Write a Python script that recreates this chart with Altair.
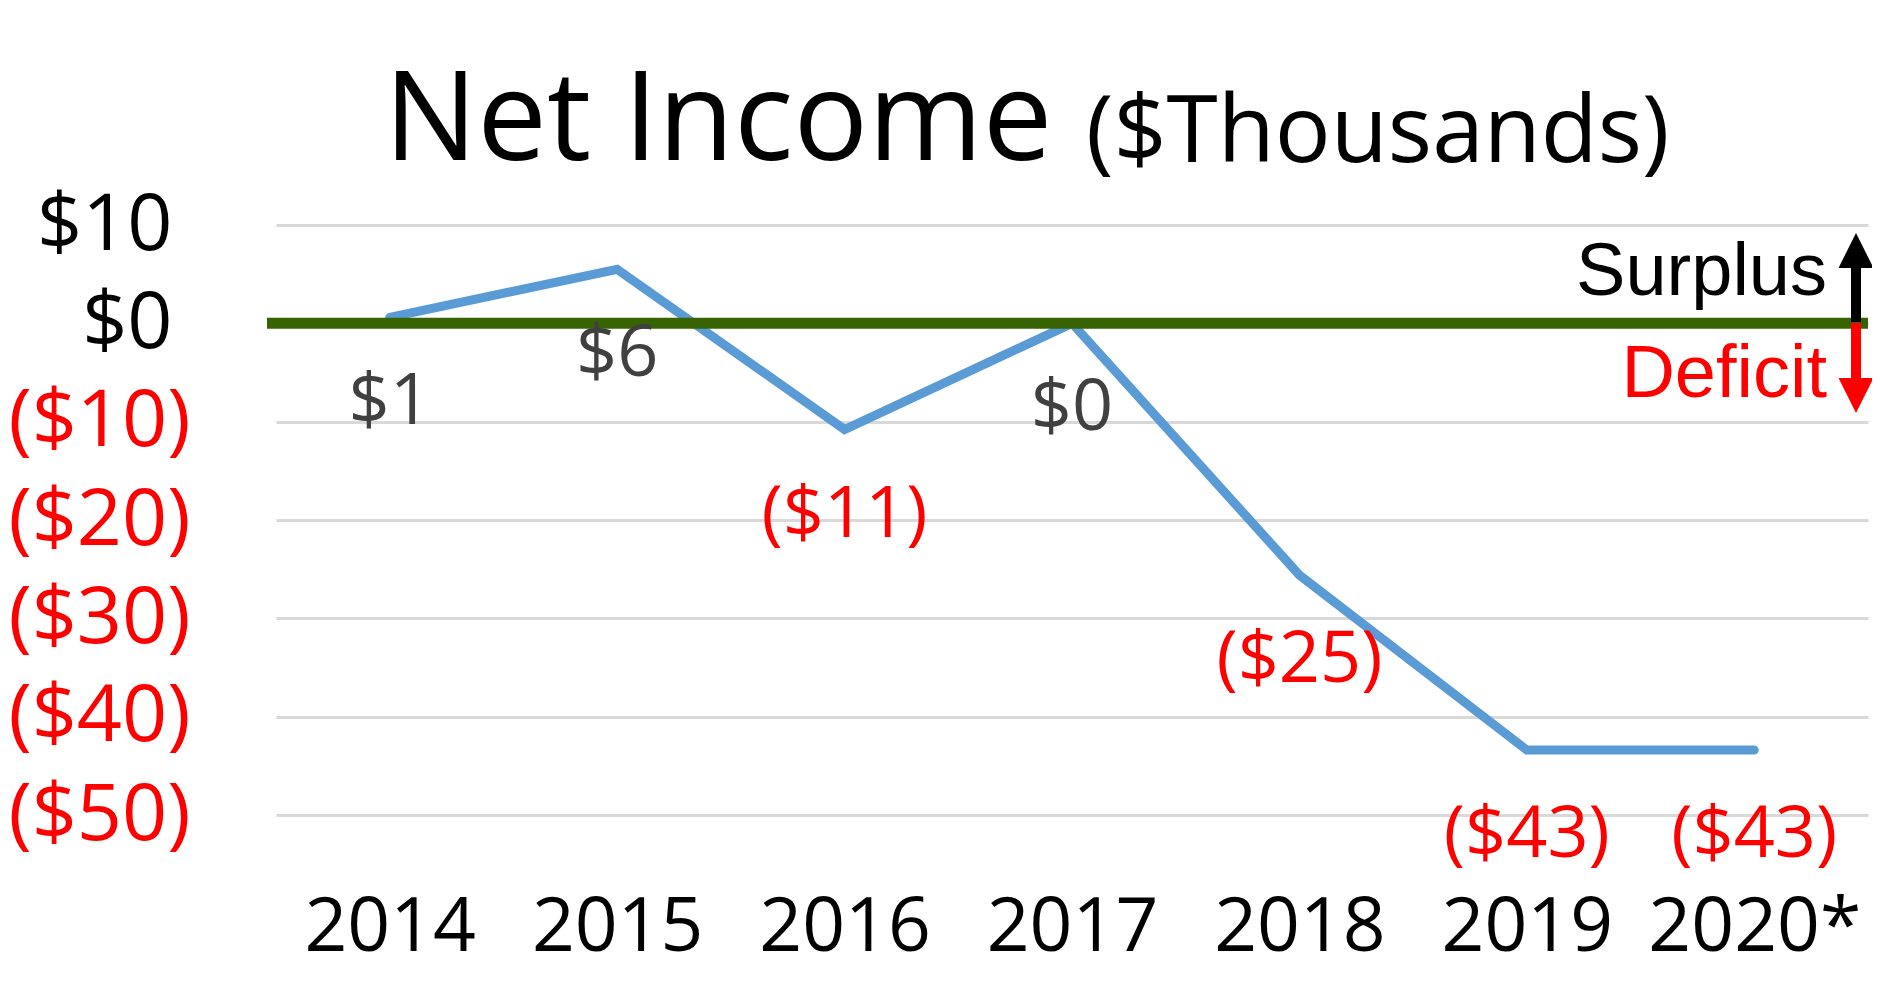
import altair as alt
import pandas as pd

years = ["2014", "2015", "2016", "2017", "2018", "2019", "2020*"]
net_income = [0.6, 5.5, -10.8, 0.0, -25.6, -43.4, -43.4]
value_labels = ["$1", "$6", "($11)", "$0", "($25)", "($43)", "($43)"]
y_ticks = [10, 0, -10, -20, -30, -40, -50]

FONT = "Open Sans"
W, H = 1592, 590

df = pd.DataFrame({"year": years, "value": net_income, "label": value_labels})

x_enc = alt.X("year:N", sort=years, title=None,
              scale=alt.Scale(paddingInner=0, paddingOuter=0.5),
              axis=alt.Axis(labelAngle=0, labelFontSize=75, labelFont=FONT,
                            labelColor="#000000", labelPadding=76, ticks=False,
                            domain=False, grid=False, labelLimit=0))
y_enc = alt.Y("value:Q", title=None,
              scale=alt.Scale(domain=[-50, 10], nice=False, zero=False),
              axis=alt.Axis(values=y_ticks, labelFontSize=79, labelFont=FONT,
                            labelExpr="datum.value < 0 ? '($' + abs(datum.value) + ')' : '$' + datum.value",
                            labelColor=alt.ExprRef("datum.value < 0 ? '#FF0000' : '#000000'"),
                            labelPadding=alt.condition("datum.value < 0", alt.value(86), alt.value(104)),
                            ticks=False, domain=False, labelLimit=0,
                            grid=True, gridColor="#D9D9D9", gridWidth=3))

base = alt.Chart(df)

line = base.mark_line(color="#5B9BD5", strokeWidth=9, strokeCap="round",
                      strokeJoin="miter").encode(x=x_enc, y=y_enc)

zero_df = pd.DataFrame({"value": [0]})
zero_line = alt.Chart(zero_df).mark_rule(color="#376400", strokeWidth=11).encode(
    y="value:Q", x=alt.value(-9), x2=alt.value(W))

labels = base.mark_text(font=FONT, fontSize=72, baseline="alphabetic", dy=107).encode(
    x=alt.X("year:N", sort=years),
    y="value:Q",
    text="label:N",
    color=alt.condition(alt.datum.value < -0.5, alt.value("#FF0000"), alt.value("#404040")),
)

title1 = alt.Chart(zero_df).mark_text(font=FONT, fontSize=124, align="left",
                                      baseline="alphabetic", color="#000000").encode(
    x=alt.value(108), y=alt.value(-65), text=alt.value("Net Income"))
title2 = alt.Chart(zero_df).mark_text(font=FONT, fontSize=93, align="left",
                                      baseline="alphabetic", color="#000000").encode(
    x=alt.value(810), y=alt.value(-63), text=alt.value("($Thousands)"))

ann_font = "Liberation Sans"
surplus = alt.Chart(zero_df).mark_text(font=ann_font, fontSize=74, align="right",
                                       baseline="alphabetic", color="#000000").encode(
    x=alt.value(1551), y=alt.value(70), text=alt.value("Surplus"))
deficit = alt.Chart(zero_df).mark_text(font=ann_font, fontSize=74, align="right",
                                       baseline="alphabetic", color="#FF0000").encode(
    x=alt.value(1551), y=alt.value(172), text=alt.value("Deficit"))

AX = 1580
up_shaft = alt.Chart(zero_df).mark_rule(color="#000000", strokeWidth=10).encode(
    x=alt.value(AX), y=alt.value(97), y2=alt.value(40))
down_shaft = alt.Chart(zero_df).mark_rule(color="#FF0000", strokeWidth=10).encode(
    x=alt.value(AX), y=alt.value(98), y2=alt.value(156))
up_head = alt.Chart(zero_df).mark_point(shape="M-1,1L1,1L0,-1Z", filled=True,
                                        color="#000000", opacity=1, size=1225).encode(
    x=alt.value(AX), y=alt.value(25.5))
down_head = alt.Chart(zero_df).mark_point(shape="M-1,-1L1,-1L0,1Z", filled=True,
                                          color="#FF0000", opacity=1, size=1225).encode(
    x=alt.value(AX), y=alt.value(170.5))

chart = alt.layer(
    line, zero_line, labels, title1, title2, surplus, deficit,
    up_shaft, down_shaft, up_head, down_head
).properties(
    width=W, height=H,
    autosize=alt.AutoSizeParams(type="none"),
    padding={"left": 268, "top": 217, "right": 4, "bottom": 161},
).configure(background="#FFFFFF").configure_view(strokeWidth=0, stroke="transparent")

chart.save("out.html", embed_options={"renderer": "svg", "actions": False})
